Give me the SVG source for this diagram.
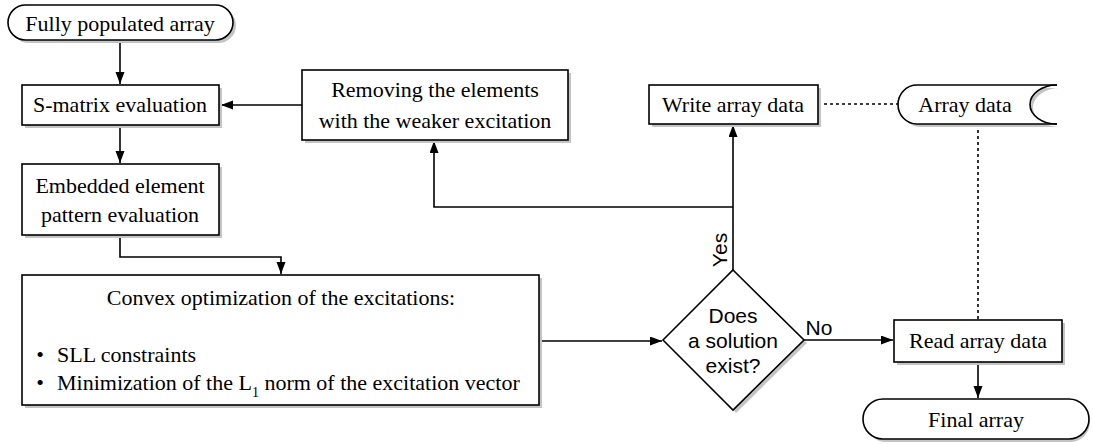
<svg xmlns="http://www.w3.org/2000/svg" width="1093" height="444" viewBox="0 0 1093 444">
<style>
.box{fill:#fff;stroke:#000;stroke-width:1.6}
.sh{fill:#c4c4c4;stroke:none}
.t{font-family:"Liberation Serif","Times New Roman",serif;font-size:22px;fill:#000;text-anchor:middle}
.ts{font-family:"Liberation Sans",Arial,sans-serif;font-size:21px;fill:#000;text-anchor:middle}
.c{fill:none;stroke:#000;stroke-width:1.6}
.d{fill:none;stroke:#000;stroke-width:1.6;stroke-dasharray:3 3}
</style>
<defs>
<marker id="ah" markerUnits="userSpaceOnUse" markerWidth="13" markerHeight="10" refX="12" refY="4.5" orient="auto">
<path d="M0,0 L12,4.5 L0,9 z" fill="#000"/>
</marker>
</defs>
<rect width="1093" height="444" fill="#fff"/>

<g id="connectors">
<path class="c" d="M120,40 V84" marker-end="url(#ah)"/>
<path class="c" d="M120,125 V163" marker-end="url(#ah)"/>
<path class="c" d="M120,235 V257 H281 V274" marker-end="url(#ah)"/>
<path class="c" d="M302,105 H221" marker-end="url(#ah)"/>
<path class="c" d="M539,341 H662" marker-end="url(#ah)"/>
<path class="c" d="M804,340 H893" marker-end="url(#ah)"/>
<path class="c" d="M733,270 V125" marker-end="url(#ah)"/>
<path class="c" d="M733,207 H434 V141" marker-end="url(#ah)"/>
<path class="c" d="M978,362 V398" marker-end="url(#ah)"/>
<path class="d" d="M818,104 H898"/>
<path class="d" d="M978,124 V320"/>
<text class="ts" transform="translate(727,250) rotate(-90)">Yes</text>
<text class="ts" x="819" y="335">No</text>
</g>

<g id="fully-populated-array">
<rect class="sh" x="11" y="8" width="225" height="35" rx="17.5"/>
<rect class="box" x="8" y="5" width="225" height="35" rx="17.5"/>
<text class="t" x="120" y="31">Fully populated array</text>
</g>

<g id="s-matrix">
<rect class="sh" x="25" y="88" width="197" height="40"/>
<rect class="box" x="22" y="85" width="197" height="40"/>
<text class="t" x="120" y="112">S-matrix evaluation</text>
</g>

<g id="embedded">
<rect class="sh" x="25" y="167" width="197" height="71"/>
<rect class="box" x="22" y="164" width="197" height="71"/>
<text class="t" x="120" y="193">Embedded element</text>
<text class="t" x="120" y="222">pattern evaluation</text>
</g>

<g id="convex">
<rect class="sh" x="25" y="278" width="517" height="130"/>
<rect class="box" x="22" y="275" width="517" height="130"/>
<text class="t" x="281" y="305">Convex optimization of the excitations:</text>
<text class="t" x="40" y="362">•</text>
<text class="t" x="57" y="362" style="text-anchor:start">SLL constraints</text>
<text class="t" x="40" y="390">•</text>
<text class="t" x="57" y="390" style="text-anchor:start">Minimization of the L<tspan font-size="14" dy="7">1</tspan><tspan dy="-7"> norm of the excitation vector</tspan></text>
</g>

<g id="removing">
<rect class="sh" x="305" y="73" width="266" height="70"/>
<rect class="box" x="302" y="70" width="266" height="70"/>
<text class="t" x="435" y="97">Removing the elements</text>
<text class="t" x="435" y="128">with the weaker excitation</text>
</g>

<g id="decision">
<polygon class="sh" points="736,273 807,343 736,413 666,343"/>
<polygon class="box" points="733,270 804,340 733,410 663,340"/>
<text class="ts" x="733" y="323">Does</text>
<text class="ts" x="733" y="348">a solution</text>
<text class="ts" x="733" y="373">exist?</text>
</g>

<g id="write-array-data">
<rect class="sh" x="652" y="88" width="169" height="39"/>
<rect class="box" x="649" y="85" width="169" height="39"/>
<text class="t" x="733" y="112">Write array data</text>
</g>

<g id="array-data">
<path class="sh" d="M1060,88 L920,88 A19,19.5 0 0 0 920,127 L1060,127 A27,19.5 0 0 1 1060,88 Z"/>
<path d="M1057,85 L917,85 A19,19.5 0 0 0 917,124 L1057,124 A27,19.5 0 0 1 1057,85 Z" fill="#fff" stroke="none"/>
<path class="c" d="M1057,85 L917,85 A19,19.5 0 0 0 917,124 L1057,124"/>
<path class="c" d="M1057,85 A27,19.5 0 0 0 1057,124"/>
<text class="t" x="965" y="112">Array data</text>
</g>

<g id="read-array-data">
<rect class="sh" x="897" y="323" width="168" height="42"/>
<rect class="box" x="894" y="320" width="168" height="42"/>
<text class="t" x="978" y="348">Read array data</text>
</g>

<g id="final-array">
<rect class="sh" x="866" y="402" width="224" height="40" rx="20"/>
<rect class="box" x="863" y="399" width="226" height="40" rx="20"/>
<text class="t" x="976" y="427">Final array</text>
</g>
</svg>
